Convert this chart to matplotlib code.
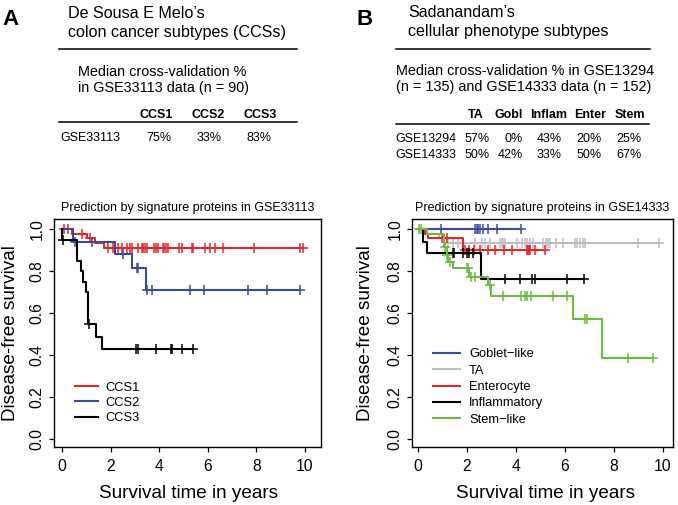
import matplotlib
matplotlib.use('Agg')
import matplotlib.pyplot as plt
import numpy as np

plt.rcParams['font.family'] = ['Liberation Sans', 'DejaVu Sans']

# ---------------- data ----------------
# Panel A: De Sousa E Melo CCS subtypes (GSE33113)
ccs_labels = ['CCS1', 'CCS2', 'CCS3']
ccs_cv = ['75%', '33%', '83%']
ccs1_steps = [0.40, 1.05, 1.35, 1.72]
ccs1_vals = [0.978, 0.956, 0.933, 0.911]
ccs1_cens = [0.08, 0.26, 0.84, 1.15, 1.88, 2.11, 2.32, 2.46, 2.67, 2.80, 2.90, 3.12,
             3.28, 3.35, 3.42, 3.49, 3.79, 3.86, 3.97, 4.15, 4.22, 4.29, 4.35, 4.83,
             4.93, 5.34, 5.41, 5.89, 6.10, 6.30, 6.62, 7.91, 9.81, 9.92]
ccs2_steps = [0.45, 2.17, 2.88, 3.45]
ccs2_vals = [0.941, 0.882, 0.816, 0.710]
ccs2_cens = [0.55, 1.22, 2.50, 3.08, 3.15, 3.52, 3.72, 5.27, 5.85, 7.68, 8.43, 9.81]
ccs3_steps = [0.01, 0.60, 0.78, 0.88, 0.99, 1.09, 1.39, 1.63]
ccs3_vals = [0.95, 0.85, 0.80, 0.75, 0.70, 0.55, 0.489, 0.428]
ccs3_cens = [0.03, 1.13, 3.05, 3.14, 3.87, 4.48, 4.52, 4.93, 5.41]

# Panel B: Sadanandam subtypes (GSE14333)
sad_cols = ['TA', 'Gobl', 'Inflam', 'Enter', 'Stem']
sad_rows = ['GSE13294', 'GSE14333']
sad_cv = [['57%', '0%', '43%', '20%', '25%'],
          ['50%', '42%', '33%', '50%', '67%']]
gob_steps = []
gob_vals = []
gob_cens = [0.93, 2.33, 2.40, 2.46, 2.53, 2.64, 2.87, 3.24, 4.20]
ta_steps = [0.30, 0.85, 1.05]
ta_vals = [0.978, 0.957, 0.935]
ta_cens = [1.24, 1.44, 1.65, 1.85, 2.33, 2.60, 2.74, 2.94, 3.35, 3.42, 3.49, 3.56,
           4.03, 4.24, 4.37, 4.47, 4.58, 4.71, 5.12, 5.23, 5.33, 5.39, 5.64, 5.94,
           6.42, 6.51, 6.62, 6.73, 6.82, 9.00, 9.86]
ent_steps = [0.29, 0.42, 1.83]
ent_vals = [0.978, 0.956, 0.900]
ent_cens = [0.96, 1.17, 1.92, 2.10, 2.30, 2.53, 2.87, 3.15, 3.51, 3.83, 4.44, 4.48,
            4.52, 4.56, 4.78, 5.20]
inf_steps = [0.19, 0.36, 2.57]
inf_vals = [0.941, 0.887, 0.762]
inf_cens = [1.44, 1.48, 1.85, 1.99, 2.10, 2.26, 3.56, 4.15, 4.65, 4.78, 6.08, 6.80]
stem_steps = [0.35, 1.04, 1.17, 1.24, 1.44, 2.10, 2.87, 2.98, 6.35, 7.50]
stem_vals = [0.975, 0.915, 0.876, 0.845, 0.813, 0.773, 0.734, 0.684, 0.571, 0.385]
stem_cens = [0.03, 0.12, 1.10, 1.20, 1.30, 2.00, 2.06, 2.15, 2.33, 2.92, 3.49, 4.20,
             4.37, 4.47, 4.60, 5.50, 6.08, 6.82, 6.92, 8.60, 9.60]

y_ticks = [0.0, 0.2, 0.4, 0.6, 0.8, 1.0]
x_ticks = [0, 2, 4, 6, 8, 10]

RED = '#E3262B'
BLUE = '#3C4A9E'
BLACK = '#000000'
GREY = '#BEBEBE'
GREEN = '#6CBA3F'

# ---------------- figure ----------------
W, H = 678, 505
fig = plt.figure(figsize=(W / 100, H / 100), dpi=100)


def fx(x):
    return x / W


def fy(y):
    return 1 - y / H


axL = fig.add_axes([fx(54), fy(447), (321 - 54) / W, (447 - 219) / H])
axR = fig.add_axes([fx(411.7), fy(447), (673 - 411.7) / W, (447 - 219) / H])


def km(ax, steps, vals, cens, color, label):
    steps = np.asarray(steps, float)
    vals = np.asarray(vals, float)
    cens = np.asarray(cens, float)
    end = max(cens.max() if cens.size else 0, steps.max() if steps.size else 0)
    allv = np.r_[1.0, vals]
    x = np.r_[0.0, steps, end]
    y = np.r_[allv, allv[-1]]
    ax.step(x, y, where='post', color=color, lw=1.5, label=label)
    idx = np.searchsorted(steps, cens, side='right')
    ax.plot(cens, allv[idx], ls='none', marker='+', ms=6.5, mew=1.1, color=color)


km(axL, ccs1_steps, ccs1_vals, ccs1_cens, RED, ccs_labels[0])
km(axL, ccs2_steps, ccs2_vals, ccs2_cens, BLUE, ccs_labels[1])
km(axL, ccs3_steps, ccs3_vals, ccs3_cens, BLACK, ccs_labels[2])

km(axR, gob_steps, gob_vals, gob_cens, BLUE, 'Goblet\u2212like')
km(axR, ta_steps, ta_vals, ta_cens, GREY, 'TA')
km(axR, ent_steps, ent_vals, ent_cens, RED, 'Enterocyte')
km(axR, inf_steps, inf_vals, inf_cens, BLACK, 'Inflammatory')
km(axR, stem_steps, stem_vals, stem_cens, GREEN, 'Stem\u2212like')

axL.set_xlim(-0.33, 10.67)
axR.set_xlim(-0.26, 10.42)
for ax, title in ((axL, 'Prediction by signature proteins in GSE33113'),
                  (axR, 'Prediction by signature proteins in GSE14333')):
    ax.set_ylim(-0.036, 1.048)
    ax.set_yticks(y_ticks)
    ax.set_yticklabels([f'{v:.1f}' for v in y_ticks])
    ax.set_xticks(x_ticks)
    ax.set_xticklabels([str(v) for v in x_ticks])
    ax.tick_params(direction='out', length=3.6, width=0.9, labelsize=11.3)
    ax.tick_params(axis='y', labelrotation=90, pad=3)
    ax.tick_params(axis='x', pad=5)
    for t in ax.get_yticklabels():
        t.set_va('center')
    for s in ax.spines.values():
        s.set_linewidth(1.0)
    ax.set_title(title, fontsize=9, pad=5.8)

axL.legend(loc='center left', bbox_to_anchor=(0.0787, 0.193), frameon=False,
           fontsize=9.3, handlelength=1.76, handletextpad=0.56, labelspacing=0.25,
           borderpad=0, borderaxespad=0)
axR.legend(loc='center left', bbox_to_anchor=(0.0815, 0.263), frameon=False,
           fontsize=9.3, handlelength=2.1, handletextpad=0.7, labelspacing=0.33,
           borderpad=0, borderaxespad=0)

# axis labels
for cx, cy in ((11, 333), (366, 333)):
    fig.text(fx(cx), fy(cy), 'Disease-free survival', rotation=90, fontsize=13.6,
             ha='center', va='center')
for cx in (188, 545):
    fig.text(fx(cx), fy(498), 'Survival time in years', fontsize=13.6,
             ha='center', va='baseline')

# ---------------- header tables ----------------
fig.text(fx(2), fy(25), 'A', fontsize=16, fontweight='bold', va='baseline')
fig.text(fx(357), fy(25), 'B', fontsize=16, fontweight='bold', va='baseline')

fig.text(fx(68), fy(18.3), 'De Sousa E Melo\u2019s', fontsize=11.6, va='baseline')
fig.text(fx(68), fy(36.7), 'colon cancer subtypes (CCSs)', fontsize=11.6, va='baseline')
fig.add_artist(plt.Line2D([fx(59), fx(297)], [fy(49), fy(49)], color='black', lw=1.1))
fig.text(fx(78), fy(76), 'Median cross-validation %', fontsize=10.4, va='baseline')
fig.text(fx(78), fy(91.7), 'in GSE33113 data (n = 90)', fontsize=10.4, va='baseline')
for lab, cx in zip(ccs_labels, (156, 208.3, 260)):
    fig.text(fx(cx), fy(118.3), lab, fontsize=9, fontweight='bold', ha='center', va='baseline')
fig.add_artist(plt.Line2D([fx(59.3), fx(296.7)], [fy(121.7), fy(121.7)], color='black', lw=1.1))
fig.text(fx(60), fy(141), 'GSE33113', fontsize=9, va='baseline')
for v, cx in zip(ccs_cv, (159, 209, 259.3)):
    fig.text(fx(cx), fy(141), v, fontsize=9, ha='center', va='baseline')

fig.text(fx(408.3), fy(17.3), 'Sadanandam\u2019s', fontsize=11.6, va='baseline')
fig.text(fx(408.3), fy(35.7), 'cellular phenotype subtypes', fontsize=11.6, va='baseline')
fig.add_artist(plt.Line2D([fx(396), fx(650)], [fy(49.3), fy(49.3)], color='black', lw=1.1))
fig.text(fx(396), fy(75), 'Median cross-validation % in GSE13294', fontsize=10.4, va='baseline')
fig.text(fx(396), fy(90.7), '(n = 135) and GSE14333 data (n = 152)', fontsize=10.4, va='baseline')
for lab, cx in zip(sad_cols, (475.7, 508.3, 548.3, 590, 629.5)):
    fig.text(fx(cx), fy(118.3), lab, fontsize=9, fontweight='bold', ha='center', va='baseline')
fig.add_artist(plt.Line2D([fx(396), fx(649)], [fy(124), fy(124)], color='black', lw=1.1))
for row, vals, by in zip(sad_rows, sad_cv, (141.7, 157.7)):
    fig.text(fx(395), fy(by), row, fontsize=9, va='baseline')
    for v, rx in zip(vals, (489.3, 522.7, 561.7, 601.7, 641.7)):
        fig.text(fx(rx), fy(by), v, fontsize=9, ha='right', va='baseline')

fig.savefig('out.png', dpi=100)
